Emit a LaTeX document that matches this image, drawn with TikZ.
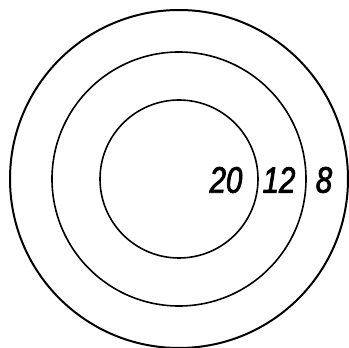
\documentclass[tikz,border=0pt]{standalone}
\usepackage{fontspec}
\newfontfamily\ringfont[FakeStretch=0.8,FakeBold=2]{Liberation Sans}
\usetikzlibrary{positioning}

\begin{document}
\begin{tikzpicture}[x=1bp,y=1bp,
    ring/.style={draw,line width=1.6bp},
    score/.style={font=\ringfont\itshape\fontsize{37}{37}\selectfont,inner sep=0pt}]
  \useasboundingbox (0,0) rectangle (349,348);
  \coordinate (centre) at (179,169);
  % the three rings
  \draw[ring,line width=2bp] (centre) circle[radius=169];
  \draw[ring] (centre) circle[radius=127];
  \draw[ring] (centre) circle[radius=79];
  % scores
  \node[score] (inner) at (226,168) {20};
  \node[score] (middle) at (279,168) {12};
  \node[score] (outer) at (324,168) {8};
\end{tikzpicture}
\end{document}
